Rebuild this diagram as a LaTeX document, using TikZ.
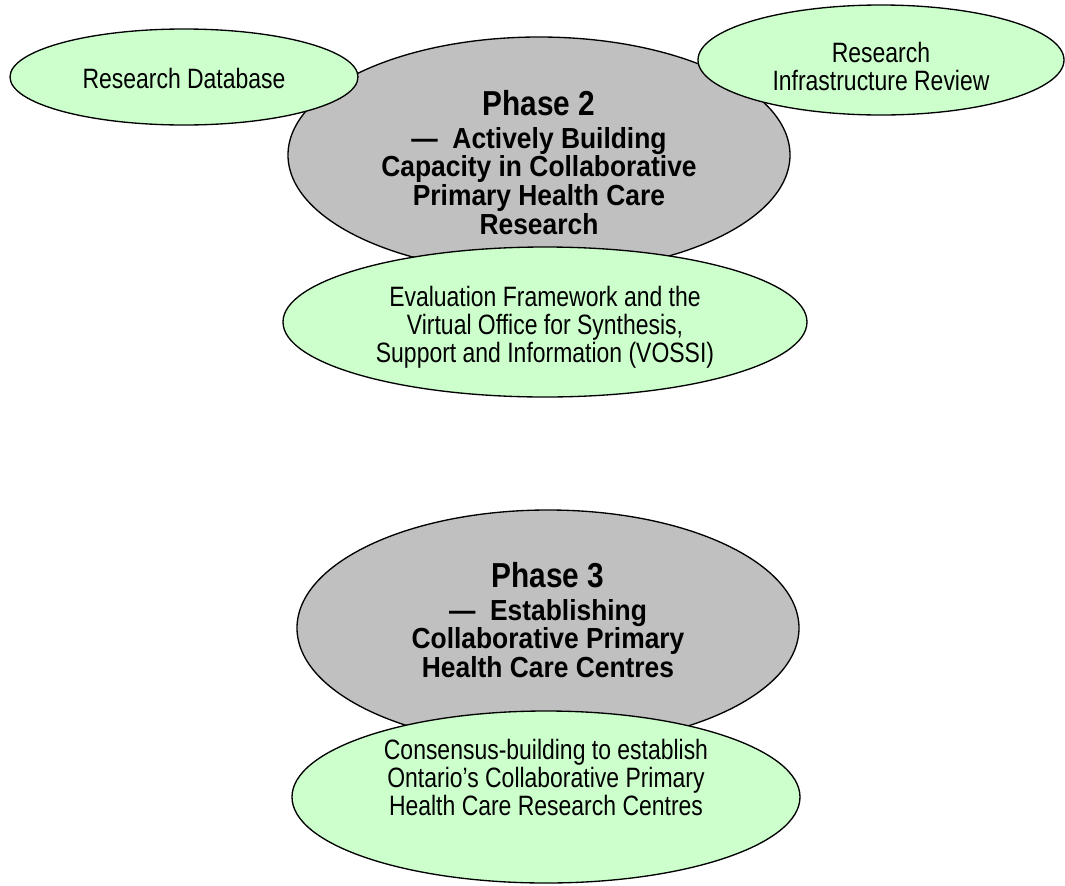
\documentclass[tikz,border=0pt]{standalone}
\usepackage{fontspec}
\usetikzlibrary{shapes.geometric}
\newfontfamily\regf[FakeStretch=0.82]{Liberation Sans}
\newfontfamily\boldf[FakeStretch=0.91]{Liberation Sans Bold}
\newfontfamily\titlef[FakeStretch=0.86]{Liberation Sans Bold}
\definecolor{lgreen}{HTML}{CCFFCC}
\definecolor{lgray}{HTML}{C0C0C0}
\tikzset{
  oval/.style={ellipse, draw=black, line width=1pt, inner sep=0pt},
  greenoval/.style={oval, fill=lgreen},
  grayoval/.style={oval, fill=lgray},
  regtext/.style={align=center, inner sep=0pt, font=\regf\fontsize{21}{21}\selectfont},
  boldtext/.style={align=center, inner sep=0pt, font=\boldf\fontsize{21.75}{21.5}\selectfont},
}
\begin{document}
\begin{tikzpicture}[x=0.75pt,y=-0.75pt]
\useasboundingbox (0,0) rectangle (1065,886);
% Phase 2 group
\node[grayoval, minimum width=376.5pt, minimum height=177pt] (p2) at (539,155) {};
\node[greenoval, minimum width=261pt, minimum height=72pt] (rd) at (184,77) {};
\node[greenoval, minimum width=274.5pt, minimum height=82.5pt] (ir) at (881,60) {};
\node[greenoval, minimum width=393pt, minimum height=112.5pt] (ev) at (545,322) {};
\node[boldtext] (p2t) at (539,162.5) {{\titlef\fontsize{26}{26}\selectfont Phase 2}\\[3pt]—\ \ Actively Building\\Capacity in Collaborative\\Primary Health Care\\Research};
\node[regtext] (rdt) at (184,78) {Research Database};
\node[regtext] (irt) at (881,66) {Research\\Infrastructure Review};
\node[regtext] (evt) at (545,327) {Evaluation Framework and the\\Virtual Office for Synthesis,\\Support and Information (VOSSI)};
% Phase 3 group
\node[grayoval, minimum width=376.5pt, minimum height=177pt] (p3) at (548,628) {};
\node[greenoval, minimum width=381pt, minimum height=129pt] (cb) at (546,797) {};
\node[boldtext] (p3t) at (548,620) {{\titlef\fontsize{26}{26}\selectfont Phase 3}\\[3pt]—\ \ Establishing\\Collaborative Primary\\Health Care Centres};
\node[regtext] (cbt) at (546,777) {Consensus-building to establish\\Ontario’s Collaborative Primary\\Health Care Research Centres};
\end{tikzpicture}
\end{document}
